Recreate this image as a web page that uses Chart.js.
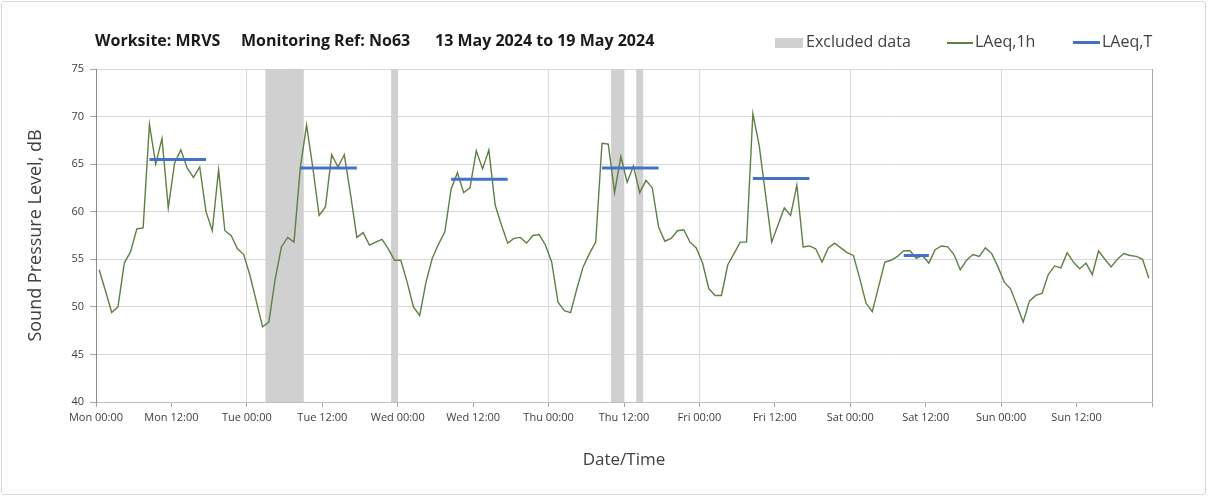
<!DOCTYPE html>
<html>
<head>
<meta charset="utf-8">
<script src="https://cdn.jsdelivr.net/npm/chart.js@4.4.1/dist/chart.umd.min.js"></script>
<style>
  html, body { margin: 0; padding: 0; background: #fff; }
  #wrap { position: relative; width: 1208px; height: 496px; font-family: "Open Sans", sans-serif; }
  #frame { position: absolute; left: 1px; top: 1px; width: 1203px; height: 492px; border: 1px solid #d9d9d9; border-radius: 3px; }
  canvas { position: absolute; left: 0; top: 0; }
  .t { position: absolute; top: 29px; font-weight: bold; font-size: 16px; color: #1a1a1a; white-space: nowrap; }
  .lg { position: absolute; top: 30px; font-size: 16px; color: #404040; white-space: nowrap; }
  .sw { position: absolute; }
</style>
</head>
<body>
<div id="wrap">
  <div id="frame"></div>
  <canvas id="grafico" width="1208" height="496"></canvas>
  <div class="t" style="left:95px">Worksite: MRVS</div>
  <div class="t" style="left:241px">Monitoring Ref: No63</div>
  <div class="t" style="left:435px">13 May 2024 to 19 May 2024</div>
  <div class="sw" style="left:775px; top:38px; width:28px; height:10px; background:#d0d0d0"></div>
  <div class="lg" style="left:806px">Excluded data</div>
  <div class="sw" style="left:947px; top:42px; width:26px; height:1.5px; background:#5f7f45"></div>
  <div class="lg" style="left:975px">LAeq,1h</div>
  <div class="sw" style="left:1073px; top:41px; width:27px; height:3px; background:#4472c4"></div>
  <div class="lg" style="left:1102px">LAeq,T</div>
</div>
<script>
// eixo x: horas desde Mon 00:00
const tickLabels = ['Mon 00:00', 'Mon 12:00', 'Tue 00:00', 'Tue 12:00', 'Wed 00:00', 'Wed 12:00',
  'Thu 00:00', 'Thu 12:00', 'Fri 00:00', 'Fri 12:00', 'Sat 00:00', 'Sat 12:00', 'Sun 00:00', 'Sun 12:00'];

// LAeq,1h (dB), uma leitura por hora
const laeq1h = [
  53.9, 51.7, 49.4, 50.0, 54.6, 55.8, 58.2, 58.3, 69.2, 65.0, 67.7, 60.4, 65.1, 66.5, 64.6, 63.6,
  64.7, 60.0, 58.0, 64.4, 58.0, 57.5, 56.1, 55.5,
  53.3, 50.6, 47.9, 48.4, 52.9, 56.3, 57.3, 56.8, 64.6, 69.1, 64.6, 59.6, 60.5, 66.0, 64.7, 66.0,
  61.8, 57.3, 57.8, 56.5, 56.8, 57.1, 56.1, 54.9,
  54.9, 52.6, 50.0, 49.1, 52.6, 55.1, 56.6, 57.9, 62.4, 64.1, 62.0, 62.5, 66.4, 64.5, 66.5, 60.7,
  58.6, 56.7, 57.2, 57.3, 56.7, 57.5, 57.6, 56.5,
  54.7, 50.5, 49.6, 49.4, 51.9, 54.2, 55.6, 56.8, 67.2, 67.1, 62.0, 65.8, 63.1, 64.8, 62.0, 63.3,
  62.5, 58.4, 56.9, 57.2, 58.0, 58.1, 56.8, 56.2,
  54.6, 51.9, 51.2, 51.2, 54.4, 55.6, 56.8, 56.8, 70.3, 67.0, 61.9, 56.8, 58.6, 60.4, 59.6, 62.8,
  56.3, 56.4, 56.1, 54.7, 56.2, 56.7, 56.2, 55.7,
  55.4, 53.0, 50.4, 49.5, 52.1, 54.7, 54.9, 55.3, 55.9, 55.9, 55.1, 55.4, 54.6, 56.0, 56.4, 56.3,
  55.5, 53.9, 54.9, 55.5, 55.3, 56.2, 55.6, 54.2,
  52.6, 51.9, 50.2, 48.4, 50.6, 51.2, 51.4, 53.4, 54.3, 54.1, 55.7, 54.7, 54.0, 54.6, 53.4, 55.9,
  55.0, 54.2, 55.0, 55.6, 55.4, 55.3, 55.0, 53.0
];

// horas excluídas
const excludedHours = [27, 28, 29, 30, 31, 32, 47, 82, 83, 86];

// LAeq,T por período
const periodStart = [8, 32, 56, 80, 104, 128];
const periodEnd = [17, 41, 65, 89, 113, 132];
const laeqT = [65.5, 64.6, 63.4, 64.6, 63.5, 55.4];

const lineData = laeq1h.map((v, i) => ({ x: i, y: v }));
const excludedData = excludedHours.map(h => ({ x: h, y: 75 }));
const periodData = [];
laeqT.forEach((v, i) => {
  periodData.push({ x: periodStart[i], y: v });
  periodData.push({ x: periodEnd[i], y: v });
  periodData.push({ x: periodEnd[i] + 1, y: null });
});

const corTexto = '#404040';

new Chart(document.getElementById('grafico').getContext('2d'), {
  data: {
    datasets: [
      {
        type: 'line',
        label: 'LAeq,T',
        data: periodData,
        borderColor: '#4472c4',
        borderWidth: 3,
        pointRadius: 0,
        spanGaps: false,
        order: 1
      },
      {
        type: 'line',
        label: 'LAeq,1h',
        data: lineData,
        borderColor: '#5f7f45',
        borderWidth: 1.4,
        pointRadius: 0,
        tension: 0,
        order: 2
      },
      {
        type: 'bar',
        label: 'Excluded data',
        data: excludedData,
        backgroundColor: '#d0d0d0',
        borderWidth: 0,
        barPercentage: 1,
        categoryPercentage: 1,
        order: 3
      }
    ]
  },
  options: {
    responsive: false,
    animation: false,
    layout: { padding: { left: 21, right: 56, top: 69, bottom: 22 } },
    plugins: {
      legend: { display: false },
      tooltip: { enabled: false }
    },
    scales: {
      x: {
        type: 'linear',
        min: -0.5,
        max: 167.5,
        offset: false,
        afterBuildTicks: scale => {
          scale.ticks = tickLabels.map((_, i) => ({ value: i * 12 - 0.5 })).concat([{ value: 167.5 }]);
        },
        afterFit: scale => { scale.height = 72; },
        ticks: {
          autoSkip: false,
          maxRotation: 0,
          padding: 4,
          color: '#404040',
          font: { family: 'Open Sans', size: 11 },
          callback: (v, i) => tickLabels[i] || ''
        },
        grid: {
          offset: false,
          color: ctx => {
            if (!ctx.tick) return 'rgba(0,0,0,0)';
            const h = Math.round(ctx.tick.value + 0.5);
            if (h === 0) return '#8c8c8c';
            if (h === 168) return '#a6a6a6';
            return h % 24 === 0 ? '#d9d9d9' : 'rgba(0,0,0,0)';
          },
          tickColor: '#a6a6a6',
          tickLength: 5
        },
        border: { color: '#bfbfbf' },
        title: {
          display: true,
          text: 'Date/Time',
          color: corTexto,
          font: { family: 'Open Sans', size: 17 }
        }
      },
      y: {
        min: 40,
        max: 75,
        afterFit: scale => { scale.width = 75; },
        ticks: {
          stepSize: 5,
          padding: 6,
          color: '#404040',
          font: { family: 'Open Sans', size: 11 }
        },
        grid: {
          color: '#d9d9d9',
          tickColor: '#a6a6a6',
          tickLength: 6
        },
        border: { color: '#8c8c8c' },
        title: {
          display: true,
          text: 'Sound Pressure Level, dB',
          color: corTexto,
          font: { family: 'Open Sans', size: 18 }
        }
      }
    }
  }
});
</script>
</body>
</html>
